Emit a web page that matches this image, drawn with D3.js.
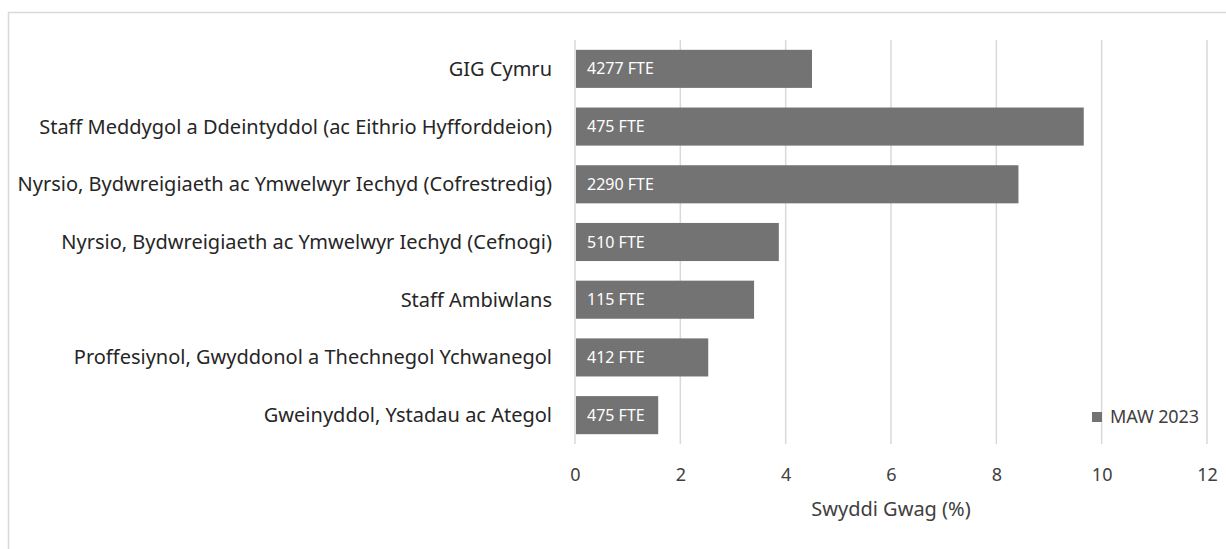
<!DOCTYPE html>
<html>
<head>
<meta charset="utf-8">
<script src="https://cdn.jsdelivr.net/npm/d3@7"></script>
<style>
  body { margin: 0; background: #fff; }
  text { font-family: "Noto Sans", sans-serif; }
</style>
</head>
<body>
<div id="chart"></div>
<script>
// chart data
var categories = [
  "GIG Cymru",
  "Staff Meddygol a Ddeintyddol (ac Eithrio Hyfforddeion)",
  "Nyrsio, Bydwreigiaeth ac Ymwelwyr Iechyd (Cofrestredig)",
  "Nyrsio, Bydwreigiaeth ac Ymwelwyr Iechyd (Cefnogi)",
  "Staff Ambiwlans",
  "Proffesiynol, Gwyddonol a Thechnegol Ychwanegol",
  "Gweinyddol, Ystadau ac Ategol"
];
var vacancyPct = [4.5, 9.66, 8.42, 3.87, 3.4, 2.53, 1.58];
var fteLabels = ["4277 FTE", "475 FTE", "2290 FTE", "510 FTE", "115 FTE", "412 FTE", "475 FTE"];
var xTicks = [0, 2, 4, 6, 8, 10, 12];
var seriesName = "MAW 2023";
var axisTitle = "Swyddi Gwag (%)";

var W = 1226, H = 549;
var margin = {top: 40, left: 575, right: 19, bottom: 105};
var width = W - margin.left - margin.right;
var height = H - margin.top - margin.bottom;

var svg = d3.select("#chart").append("svg")
  .attr("width", W)
  .attr("height", H);

// outer frame
svg.append("rect")
  .attr("x", 8.5).attr("y", 12.5)
  .attr("width", W).attr("height", H)
  .attr("fill", "none")
  .attr("stroke", "#d9d9d9")
  .attr("stroke-width", 1.5);

var g = svg.append("g")
  .attr("transform", "translate(" + margin.left + "," + margin.top + ")");

var x = d3.scaleLinear()
  .domain([0, 12])
  .range([0, width]);

var y = d3.scaleBand()
  .domain(categories)
  .range([0, height])
  .paddingInner(0.34)
  .paddingOuter(0.17);

// gridlines
g.selectAll(".grid")
  .data(xTicks)
  .enter().append("line")
  .attr("class", "grid")
  .attr("x1", function (d) { return x(d); })
  .attr("x2", function (d) { return x(d); })
  .attr("y1", 0)
  .attr("y2", height)
  .attr("stroke", "#d9d9d9")
  .attr("stroke-width", 1.5);

// bars
g.selectAll(".bar")
  .data(categories)
  .enter().append("rect")
  .attr("class", "bar")
  .attr("x", x(0) + 1)
  .attr("y", function (d) { return y(d); })
  .attr("width", function (d, i) { return x(vacancyPct[i]) - x(0) - 1; })
  .attr("height", y.bandwidth())
  .attr("fill", "#737373");

// data labels
g.selectAll(".lbl")
  .data(categories)
  .enter().append("text")
  .attr("class", "lbl")
  .attr("x", x(0) + 12)
  .attr("y", function (d) { return y(d) + y.bandwidth() / 2; })
  .attr("dy", "0.35em")
  .attr("fill", "#fff")
  .style("font-size", "16px")
  .text(function (d, i) { return fteLabels[i]; });

// category labels
g.selectAll(".cat")
  .data(categories)
  .enter().append("text")
  .attr("class", "cat")
  .attr("x", -23)
  .attr("y", function (d) { return y(d) + y.bandwidth() / 2; })
  .attr("dy", "0.35em")
  .attr("text-anchor", "end")
  .attr("fill", "#262626")
  .style("font-size", "20px")
  .text(function (d) { return d; });

// x axis
var xAxis = g.append("g")
  .attr("transform", "translate(0," + height + ")")
  .call(d3.axisBottom(x).tickValues(xTicks).tickSize(0).tickPadding(24));
xAxis.select(".domain").remove();
xAxis.selectAll("text")
  .attr("fill", "#404040")
  .style("font-size", "18px");

g.append("text")
  .attr("x", width / 2)
  .attr("y", height + 65)
  .attr("dy", "0.35em")
  .attr("text-anchor", "middle")
  .attr("fill", "#404040")
  .style("font-size", "20px")
  .text(axisTitle);

// legend
var leg = svg.append("g")
  .attr("transform", "translate(1092,412)");
leg.append("rect")
  .attr("width", 10).attr("height", 10)
  .attr("fill", "#737373");
leg.append("text")
  .attr("x", 18)
  .attr("y", 5)
  .attr("dy", "0.35em")
  .attr("fill", "#404040")
  .style("font-size", "18px")
  .style("letter-spacing", "-0.1px")
  .text(seriesName);
</script>
</body>
</html>
